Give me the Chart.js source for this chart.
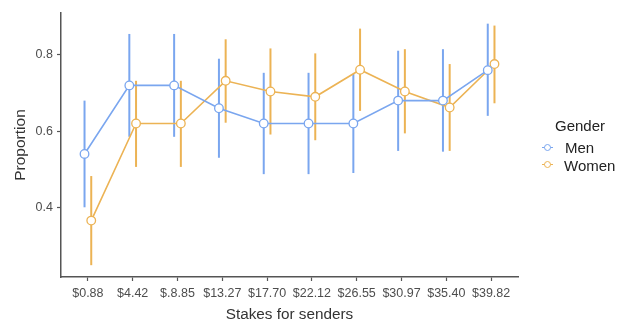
<!DOCTYPE html>
<html>
<head>
<meta charset="utf-8">
<script src="https://cdn.jsdelivr.net/npm/chart.js@4"></script>
<style>
  body { margin: 0; background: #fff; }
  #wrap { position: relative; width: 617px; height: 320px; overflow: hidden; }
  .lg { position: absolute; font-family: "Liberation Sans", Arial, sans-serif; font-size: 15px; line-height: 17px; color: #222; white-space: nowrap; }
  .sym { position: absolute; width: 11px; height: 9px; }
  .sym .ln { position: absolute; left: 0; right: 0; top: 4px; height: 1.3px; }
  .sym .pt { position: absolute; left: 2px; top: 1px; width: 5px; height: 5px; border-radius: 50%; background: #fff; border: 1.2px solid; }
</style>
</head>
<body>
<div id="wrap">
  <canvas id="myChart" width="617" height="320"></canvas>
  <div class="lg" style="left:555px; top:117px;">Gender</div>
  <div class="sym" style="left:542px; top:142.5px;"><div class="ln" style="background:#7aa6ef"></div><div class="pt" style="border-color:#7aa6ef"></div></div>
  <div class="lg" style="left:565px; top:139px;">Men</div>
  <div class="sym" style="left:542px; top:160px;"><div class="ln" style="background:#ecb354"></div><div class="pt" style="border-color:#ecb354"></div></div>
  <div class="lg" style="left:564px; top:156.5px;">Women</div>
</div>
<script>
const stakes = ['$0.88', '$4.42', '$.8.85', '$13.27', '$17.70', '$22.12', '$26.55', '$30.97', '$35.40', '$39.82'];

const menMean = [0.54, 0.72, 0.72, 0.66, 0.62, 0.62, 0.62, 0.68, 0.68, 0.76];
const menLow = [0.40, 0.585, 0.585, 0.53, 0.487, 0.487, 0.49, 0.548, 0.546, 0.64];
const menHigh = [0.68, 0.855, 0.855, 0.79, 0.753, 0.753, 0.75, 0.811, 0.815, 0.882];

const womenMean = [0.365, 0.62, 0.62, 0.732, 0.704, 0.69, 0.761, 0.704, 0.662, 0.776];
const womenLow = [0.248, 0.506, 0.506, 0.622, 0.591, 0.576, 0.653, 0.594, 0.548, 0.673];
const womenHigh = [0.482, 0.732, 0.732, 0.841, 0.817, 0.804, 0.869, 0.815, 0.776, 0.877];

const yTicks = [0.4, 0.6, 0.8];

const blue = '#7aa6ef';
const orange = '#ecb354';
const dodge = 0.075;

function makePoints(mean, low, high, shift) {
    return mean.map((v, i) => ({ x: i + shift, y: v, lo: low[i], hi: high[i] }));
}

// vertical error bars, drawn under the lines and points
const errorBars = {
    id: 'errorBars',
    beforeDatasetsDraw(chart) {
        const ctx = chart.ctx;
        const xs = chart.scales.x;
        const ys = chart.scales.y;
        chart.data.datasets.forEach(ds => {
            ctx.save();
            ctx.strokeStyle = ds.borderColor;
            ctx.lineWidth = 2;
            ds.data.forEach(p => {
                const px = xs.getPixelForValue(p.x);
                ctx.beginPath();
                ctx.moveTo(px, ys.getPixelForValue(p.lo));
                ctx.lineTo(px, ys.getPixelForValue(p.hi));
                ctx.stroke();
            });
            ctx.restore();
        });
    }
};

const family = '"Liberation Sans", Arial, sans-serif';

new Chart(document.getElementById('myChart'), {
    type: 'line',
    data: {
        datasets: [
            {
                label: 'Men',
                data: makePoints(menMean, menLow, menHigh, -dodge),
                borderColor: blue,
                backgroundColor: '#fff',
                borderWidth: 1.6,
                pointRadius: 4.3,
                pointBorderWidth: 1.3,
                pointBackgroundColor: '#fff',
                tension: 0
            },
            {
                label: 'Women',
                data: makePoints(womenMean, womenLow, womenHigh, dodge),
                borderColor: orange,
                backgroundColor: '#fff',
                borderWidth: 1.6,
                pointRadius: 4.3,
                pointBorderWidth: 1.3,
                pointBackgroundColor: '#fff',
                tension: 0
            }
        ]
    },
    options: {
        responsive: false,
        animation: false,
        layout: { padding: { left: 0, right: 99, top: 13, bottom: 0 } },
        plugins: { legend: { display: false }, tooltip: { enabled: false } },
        scales: {
            x: {
                type: 'linear',
                min: -0.6,
                max: 9.6,
                afterBuildTicks(axis) { axis.ticks = stakes.map((s, i) => ({ value: i })); },
                afterFit(axis) { axis.height = 43; },
                ticks: {
                    callback: v => stakes[v],
                    color: '#4d4d4d',
                    font: { family, size: 12.5 },
                    padding: 5.5,
                    maxRotation: 0,
                    autoSkip: false
                },
                grid: { drawOnChartArea: false, tickLength: 4, color: '#555', tickWidth: 1.2 },
                border: { color: '#555', width: 1.5 },
                title: {
                    display: true,
                    text: 'Stakes for senders',
                    color: '#333',
                    font: { family, size: 15.3, lineHeight: 1 },
                    padding: { top: 0, bottom: -2.5 }
                }
            },
            y: {
                min: 0.217,
                max: 0.91,
                afterBuildTicks(axis) { axis.ticks = yTicks.map(v => ({ value: v })); },
                afterFit(axis) { axis.width = 61; },
                ticks: {
                    callback: v => v.toFixed(1),
                    color: '#4d4d4d',
                    font: { family, size: 12.5 },
                    padding: 4
                },
                grid: { drawOnChartArea: false, tickLength: 4, color: '#555', tickWidth: 1.2 },
                border: { color: '#555', width: 1.5 },
                title: {
                    display: true,
                    text: 'Proportion',
                    color: '#333',
                    font: { family, size: 15.5 },
                    padding: { top: 11, bottom: 0 }
                }
            }
        }
    },
    plugins: [errorBars]
});
</script>
</body>
</html>
